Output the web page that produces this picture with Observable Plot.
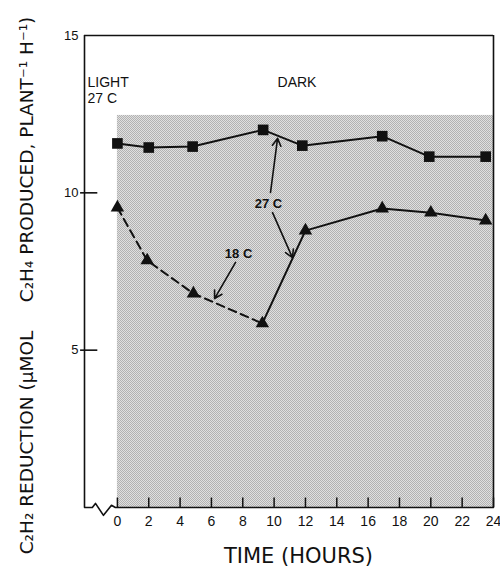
<!DOCTYPE html>
<html><head><meta charset="utf-8">
<script src="https://cdn.jsdelivr.net/npm/d3@7"></script>
<script src="https://cdn.jsdelivr.net/npm/@observablehq/plot@0.6"></script>
<style>body{margin:0;background:#fff} svg{display:block}</style>
</head><body><div id="chart"></div>
<script>
// ---- data ----
const ethyleneHours = [0, 2, 4.8, 9.3, 11.8, 16.9, 19.9, 23.5];
const ethyleneRate  = [11.57, 11.44, 11.47, 12.0, 11.5, 11.8, 11.15, 11.15];

const reductionHours = [0, 1.9, 4.85, 9.25, 12.0, 16.9, 20.0, 23.5];
const reductionRate  = [9.53, 7.85, 6.8, 5.85, 8.8, 9.5, 9.37, 9.12];

const cool18Hours = [0, 1.9, 4.85, 9.25];
const cool18Rate  = [9.53, 7.85, 6.8, 5.85];
const warm27Hours = [9.25, 12.0, 16.9, 20.0, 23.5];
const warm27Rate  = [5.85, 8.8, 9.5, 9.37, 9.12];

const xTicks = [0, 2, 4, 6, 8, 10, 12, 14, 16, 18, 20, 22, 24];
const yTicks = [5, 10, 15];

const darkStart = 0, darkEnd = 24, darkTop = 12.46;
const xMin = -2.1, xMax = 24, yMin = 0, yMax = 15;

// annotations
const arrowX1 = [9.77, 9.9, 7.54];
const arrowY1 = [10.01, 9.37, 7.79];
const arrowX2 = [10.22, 11.17, 6.2];
const arrowY2 = [11.73, 7.94, 6.64];
const noteText = ["LIGHT", "27 C", "DARK"];
const noteX = [-1.91, -1.91, 10.22];
const noteY = [13.5, 13.0, 13.5];
const tempText = ["27 C", "18 C"];
const tempX = [9.64, 7.73];
const tempY = [9.66, 8.07];

// axis break zig-zag on the bottom line
const breakX = [xMin, -1.6, -1.4, -0.89, -0.38, -0.13, xMax];
const breakY = [0, 0, 0.13, -0.25, 0.07, 0, 0];

const yLabelA = "C₂H₂ REDUCTION (μMOL";
const yLabelB = "C₂H₄ PRODUCED, PLANT⁻¹ H⁻¹)";
const xLabel = "TIME (HOURS)";

// ---- build tables ----
const squares = ethyleneHours.map((h, i) => ({h, v: ethyleneRate[i]}));
const triangles = reductionHours.map((h, i) => ({h, v: reductionRate[i]}));
const cool = cool18Hours.map((h, i) => ({h, v: cool18Rate[i]}));
const warm = warm27Hours.map((h, i) => ({h, v: warm27Rate[i]}));
const arrows = arrowX1.map((x, i) => ({x1: x, y1: arrowY1[i], x2: arrowX2[i], y2: arrowY2[i]}));
const notes = noteText.map((t, i) => ({t, x: noteX[i], y: noteY[i]}));
const temps = tempText.map((t, i) => ({t, x: tempX[i], y: tempY[i]}));
const breakLine = breakX.map((x, i) => ({x, y: breakY[i]}));

const wide = "'DejaVu Sans', sans-serif";

const svg = Plot.plot({
  width: 500,
  height: 567,
  marginLeft: 84,
  marginRight: 7,
  marginTop: 35,
  marginBottom: 60,
  style: {fontFamily: "'Liberation Sans', Arial, sans-serif", color: "#111", background: "#fff"},
  x: {domain: [xMin, xMax], axis: null},
  y: {domain: [yMin, yMax], axis: null},
  marks: [
    Plot.rect([{x1: darkStart, x2: darkEnd, y1: 0, y2: darkTop}], {x1: "x1", x2: "x2", y1: "y1", y2: "y2", fill: "url(#stipple)"}),
    // frame
    Plot.ruleX([xMin, xMax], {y1: yMin, y2: yMax, stroke: "#111", strokeWidth: 1.6}),
    Plot.ruleY([yMax], {x1: xMin, x2: xMax, stroke: "#111", strokeWidth: 1.6}),
    Plot.line(breakLine, {x: "x", y: "y", stroke: "#111", strokeWidth: 1.6, curve: "linear"}),
    // ticks
    Plot.ruleY([5, 10], {x1: -2.35, x2: -1.25, stroke: "#111", strokeWidth: 1.6}),
    Plot.ruleX(xTicks, {y1: 0, y2: 0.3, stroke: "#111", strokeWidth: 1.5}),
    Plot.axisX({ticks: xTicks, tickSize: 0, tickPadding: 9, fontSize: 14, anchor: "bottom"}),
    Plot.axisY({ticks: yTicks, tickSize: 0, tickPadding: 6, fontSize: 13, anchor: "left"}),
    // data lines
    Plot.line(squares, {x: "h", y: "v", stroke: "#111", strokeWidth: 2}),
    Plot.line(cool, {x: "h", y: "v", stroke: "#111", strokeWidth: 2, strokeDasharray: "8,5"}),
    Plot.line(warm, {x: "h", y: "v", stroke: "#111", strokeWidth: 2}),
    Plot.dot(squares, {x: "h", y: "v", symbol: "square", r: 6, fill: "#111", stroke: "none"}),
    Plot.dot(triangles, {x: "h", y: "v", symbol: "triangle", r: 5, fill: "#111", stroke: "none"}),
    // annotations
    Plot.arrow(arrows, {x1: "x1", y1: "y1", x2: "x2", y2: "y2", stroke: "#111", strokeWidth: 1.6, headLength: 8}),
    Plot.text(temps, {x: "x", y: "y", text: "t", fontSize: 13, fontWeight: "bold", fill: "#111"}),
    Plot.text(notes, {x: "x", y: "y", text: "t", fontSize: 14, textAnchor: "start", fill: "#111"}),
    // axis titles
    Plot.text([xLabel], {frameAnchor: "bottom", textAnchor: "middle", lineAnchor: "middle", dx: 9.5, dy: 49, fontSize: 21, fontFamily: wide, fill: "#111"}),
    Plot.text([yLabelA], {frameAnchor: "left", textAnchor: "middle", lineAnchor: "middle", dx: -57, dy: 171, rotate: -90, fontSize: 18.5, fontFamily: wide, fill: "#111"}),
    Plot.text([yLabelB], {frameAnchor: "left", textAnchor: "middle", lineAnchor: "middle", dx: -57, dy: -112, rotate: -90, fontSize: 18.5, fontFamily: wide, fill: "#111"})
  ]
});

d3.select(svg).insert("defs", ":first-child").html(
  '<pattern id="stipple" width="2" height="2" patternUnits="userSpaceOnUse">' +
  '<rect width="2" height="2" fill="#e0e0e0"/>' +
  '<rect width="1" height="1" fill="#b2b2b2"/>' +
  '<rect x="1" y="1" width="1" height="1" fill="#b2b2b2"/>' +
  '</pattern>'
);

document.getElementById("chart").appendChild(svg);
</script>
</body></html>
